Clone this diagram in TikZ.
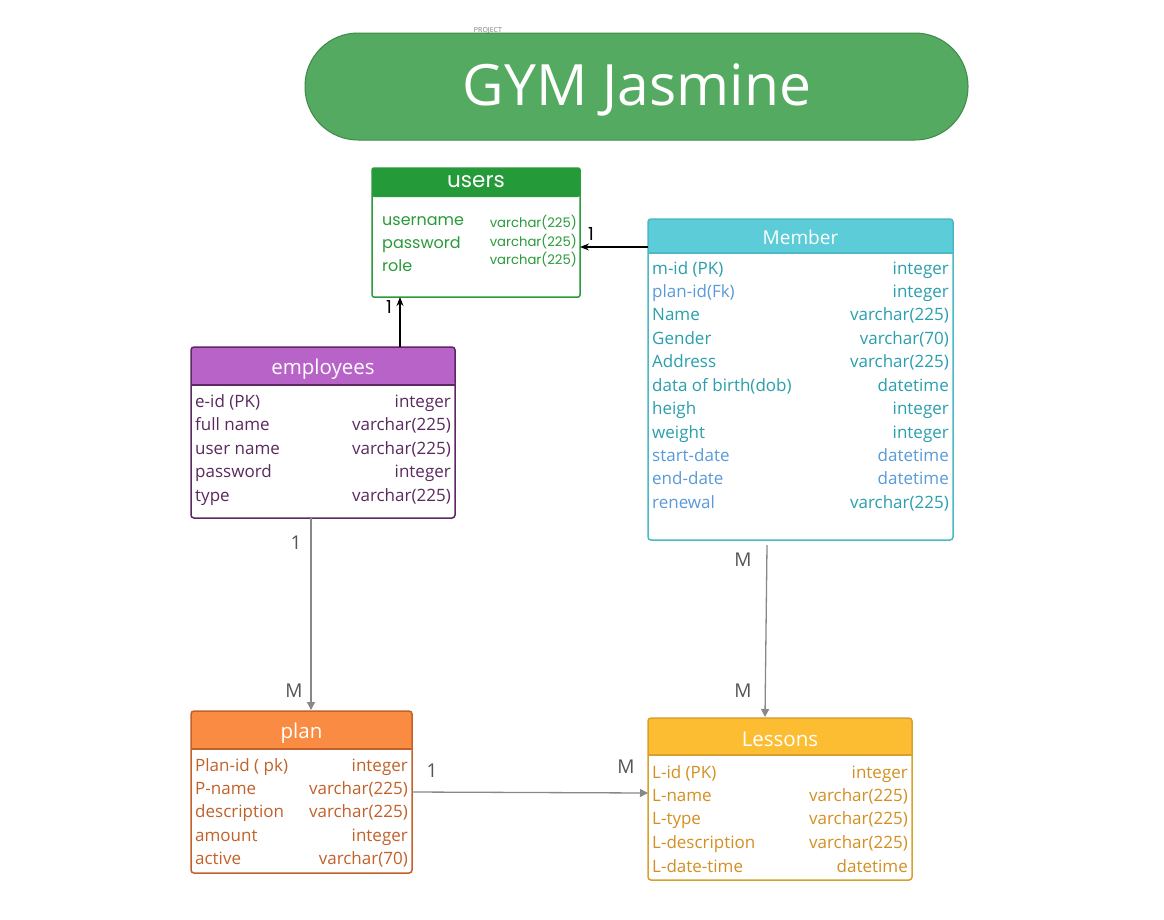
\documentclass[tikz,border=0pt]{standalone}
\usepackage{fontspec}
\setmainfont{Open Sans}
\newfontfamily\usersfont{Poppins}
\usetikzlibrary{calc,arrows.meta}
\definecolor{pillfill}{HTML}{55AA61}
\definecolor{pillline}{HTML}{3E8A48}
\definecolor{usrhead}{HTML}{249B38}
\definecolor{usrtext}{HTML}{2A9A3A}
\definecolor{memhead}{HTML}{5DCCD9}
\definecolor{memline}{HTML}{4BB8C6}
\definecolor{memtext}{HTML}{2A9FAD}
\definecolor{memblue}{HTML}{5A9AD8}
\definecolor{emphead}{HTML}{B763C8}
\definecolor{empline}{HTML}{5C2763}
\definecolor{emptext}{HTML}{5A2A5E}
\definecolor{planhead}{HTML}{F98B43}
\definecolor{plantext}{HTML}{C2612A}
\definecolor{leshead}{HTML}{FDBD33}
\definecolor{lestext}{HTML}{D39022}
\definecolor{lesline}{HTML}{D8A030}
\definecolor{relgray}{HTML}{888888}
\definecolor{lblgray}{HTML}{555555}
\tikzset{
  tblbox/.style={anchor=north west, inner sep=0pt, outer sep=0pt},
  fld/.style={anchor=base west, inner sep=0pt, font=\fontsize{17}{20}\selectfont},
  typ/.style={anchor=base east, inner sep=0pt, font=\fontsize{17}{20}\selectfont},
  ufld/.style={anchor=base west, inner sep=0pt, text=usrtext, font=\usersfont\fontsize{16}{19}\selectfont},
  utyp/.style={anchor=base east, inner sep=0pt, text=usrtext, font=\usersfont\fontsize{13.2}{15}\selectfont},
  ttl/.style={inner sep=0pt, text=white, font=\fontsize{20.5}{24}\selectfont},
  card/.style={inner sep=0pt, text=lblgray, font=\fontsize{19}{22}\selectfont},
  bcard/.style={inner sep=0pt, text=black, font=\usersfont\fontsize{18}{20}\selectfont},
  relg/.style={draw=relgray, line width=1.3pt, -{Triangle[length=8pt,width=8pt]}},
  relb/.style={draw=black, line width=1.3pt, -{Stealth[length=9pt,width=7pt]}},
}
\begin{document}
\begin{tikzpicture}[x=1pt,y=-1pt]
\useasboundingbox (0,0) rectangle (1164,919);
\fill[white] (0,0) rectangle (1164,919);

% Title
\node[inner sep=0pt, text=gray, font=\fontsize{7}{8}\selectfont] (proj) at (488,31) {PROJECT};
\node[draw=pillline, fill=pillfill, line width=1pt, rounded corners=53pt, minimum width=663pt, minimum height=107pt, inner sep=0pt] (title) at (636.5,86.5) {};
\node[text=white, inner sep=0pt, font=\fontsize{57}{64}\selectfont] (titletxt) at (637,90) {GYM Jasmine};

% ---------- users ----------
\node[tblbox, minimum width=208pt, minimum height=129pt] (users) at (372,168) {};
\fill[usrhead, rounded corners=2pt] (users.north west) rectangle ($(users.north east)+(0,29)$);
\draw[usrtext, line width=1.5pt, rounded corners=2pt] (users.north west) rectangle (users.south east);
\node[ttl, font=\usersfont\fontsize{21.5}{24}\selectfont] (usersT) at ($(users.north)+(0,14)$) {users};
\node[ufld] (u1) at (382,225) {username};
\node[ufld] (u2) at (382,248) {password};
\node[ufld] (u3) at (382,271) {role};
\node[utyp] (u1t) at (577,227) {varchar(225)};
\node[utyp] (u2t) at (577,246) {varchar(225)};
\node[utyp] (u3t) at (577,264) {varchar(225)};

% ---------- Member ----------
\node[tblbox, minimum width=305pt, minimum height=321pt] (member) at (648,219) {};
\fill[memhead, rounded corners=3pt] (member.north west) rectangle ($(member.north east)+(0,34)$);
\draw[memline, line width=1.5pt] ($(member.north west)+(0,34)$) -- ($(member.north east)+(0,34)$);
\draw[memline, line width=1.5pt, rounded corners=3pt] (member.north west) rectangle (member.south east);
\node[ttl, font=\fontsize{19}{22}\selectfont] (memberT) at ($(member.north)+(0,18)$) {Member};
\node[fld, text=memtext] (m1) at (652,274) {m-id (PK)};
\node[fld, text=memblue] (m2) at (652,297) {plan-id(Fk)};
\node[fld, text=memtext] (m3) at (652,320) {Name};
\node[fld, text=memtext] (m4) at (652,344) {Gender};
\node[fld, text=memtext] (m5) at (652,367) {Address};
\node[fld, text=memtext] (m6) at (652,391) {data of birth(dob)};
\node[fld, text=memtext] (m7) at (652,414) {heigh};
\node[fld, text=memtext] (m8) at (652,438) {weight};
\node[fld, text=memblue] (m9) at (652,461) {start-date};
\node[fld, text=memblue] (m10) at (652,484) {end-date};
\node[fld, text=memblue] (m11) at (652,508) {renewal};
\node[typ, text=memtext] (m1t) at (949,274) {integer};
\node[typ, text=memtext] (m2t) at (949,297) {integer};
\node[typ, text=memtext] (m3t) at (949,320) {varchar(225)};
\node[typ, text=memtext] (m4t) at (949,344) {varchar(70)};
\node[typ, text=memtext] (m5t) at (949,367) {varchar(225)};
\node[typ, text=memtext] (m6t) at (949,391) {datetime};
\node[typ, text=memtext] (m7t) at (949,414) {integer};
\node[typ, text=memtext] (m8t) at (949,438) {integer};
\node[typ, text=memblue] (m9t) at (949,461) {datetime};
\node[typ, text=memblue] (m10t) at (949,484) {datetime};
\node[typ, text=memtext] (m11t) at (949,508) {varchar(225)};

% ---------- employees ----------
\node[tblbox, minimum width=264pt, minimum height=171pt] (emp) at (191,347) {};
\fill[emphead, rounded corners=3pt] (emp.north west) rectangle ($(emp.north east)+(0,38)$);
\draw[empline, line width=1.2pt] ($(emp.north west)+(0,38)$) -- ($(emp.north east)+(0,38)$);
\draw[empline, line width=1.5pt, rounded corners=3pt] (emp.north west) rectangle (emp.south east);
\node[ttl] (empT) at ($(emp.north)+(0,22)$) {employees};
\node[fld, text=emptext] (e1) at (195,407) {e-id (PK)};
\node[fld, text=emptext] (e2) at (195,430) {full name};
\node[fld, text=emptext] (e3) at (195,454) {user name};
\node[fld, text=emptext] (e4) at (195,477) {password};
\node[fld, text=emptext] (e5) at (195,501) {type};
\node[typ, text=emptext] (e1t) at (451,407) {integer};
\node[typ, text=emptext] (e2t) at (451,430) {varchar(225)};
\node[typ, text=emptext] (e3t) at (451,454) {varchar(225)};
\node[typ, text=emptext] (e4t) at (451,477) {integer};
\node[typ, text=emptext] (e5t) at (451,501) {varchar(225)};

% ---------- plan ----------
\node[tblbox, minimum width=221pt, minimum height=162pt] (plan) at (191,711) {};
\fill[planhead, rounded corners=3pt] (plan.north west) rectangle ($(plan.north east)+(0,38)$);
\draw[plantext, line width=1.2pt] ($(plan.north west)+(0,38)$) -- ($(plan.north east)+(0,38)$);
\draw[plantext, line width=1.5pt, rounded corners=3pt] (plan.north west) rectangle (plan.south east);
\node[ttl] (planT) at ($(plan.north)+(0,22)$) {plan};
\node[fld, text=plantext] (p1) at (195,771) {Plan-id ( pk)};
\node[fld, text=plantext] (p2) at (195,794) {P-name};
\node[fld, text=plantext] (p3) at (195,817) {description};
\node[fld, text=plantext] (p4) at (195,841) {amount};
\node[fld, text=plantext] (p5) at (195,864) {active};
\node[typ, text=plantext] (p1t) at (408,771) {integer};
\node[typ, text=plantext] (p2t) at (408,794) {varchar(225)};
\node[typ, text=plantext] (p3t) at (408,817) {varchar(225)};
\node[typ, text=plantext] (p4t) at (408,841) {integer};
\node[typ, text=plantext] (p5t) at (408,864) {varchar(70)};

% ---------- Lessons ----------
\node[tblbox, minimum width=264pt, minimum height=162pt] (les) at (648,718) {};
\fill[leshead, rounded corners=3pt] (les.north west) rectangle ($(les.north east)+(0,37)$);
\draw[lesline, line width=1.2pt] ($(les.north west)+(0,37)$) -- ($(les.north east)+(0,37)$);
\draw[lesline, line width=1.5pt, rounded corners=3pt] (les.north west) rectangle (les.south east);
\node[ttl] (lesT) at ($(les.north)+(0,21)$) {Lessons};
\node[fld, text=lestext] (l1) at (652,778) {L-id (PK)};
\node[fld, text=lestext] (l2) at (652,801) {L-name};
\node[fld, text=lestext] (l3) at (652,824) {L-type};
\node[fld, text=lestext] (l4) at (652,848) {L-description};
\node[fld, text=lestext] (l5) at (652,872) {L-date-time};
\node[typ, text=lestext] (l1t) at (908,778) {integer};
\node[typ, text=lestext] (l2t) at (908,801) {varchar(225)};
\node[typ, text=lestext] (l3t) at (908,824) {varchar(225)};
\node[typ, text=lestext] (l4t) at (908,848) {varchar(225)};
\node[typ, text=lestext] (l5t) at (908,872) {datetime};

% ---------- connectors ----------
\draw[relb] ($(emp.north west)+(209,0)$) -- ($(users.south west)+(28,0)$);
\draw[relb] ($(member.north west)+(0,28)$) -- ($(users.north east)+(0,79)$);
\draw[relg] ($(emp.south west)+(120,0)$) -- ($(plan.north west)+(120,-1)$);
\draw[relg] ($(member.south west)+(119,5)$) -- ($(les.north west)+(117,-1)$);
\draw[relg] (plan.east) -- ($(les.north west)+(0,75)$);

% ---------- cardinalities ----------
\node[bcard] (c1) at (389,307) {1};
\node[bcard] (c2) at (591,234) {1};
\node[card] (c3) at (296,543) {1};
\node[card] (c4) at (294,691) {M};
\node[card] (c5) at (743,560) {M};
\node[card] (c6) at (743,691) {M};
\node[card] (c7) at (432,771) {1};
\node[card] (c8) at (626,767) {M};
\end{tikzpicture}
\end{document}
